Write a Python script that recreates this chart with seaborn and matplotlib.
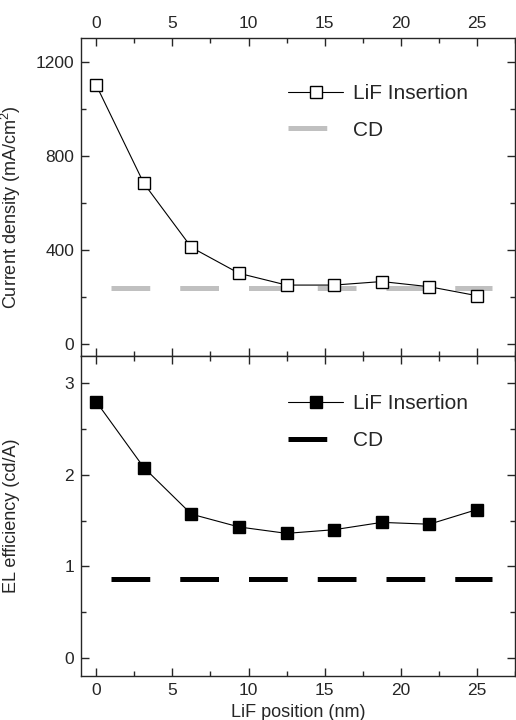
import matplotlib
matplotlib.use("Agg")
import matplotlib.pyplot as plt
import seaborn as sns
import pandas as pd
from matplotlib.ticker import MultipleLocator

# LiF position (nm)
position = [0, 3.125, 6.25, 9.375, 12.5, 15.625, 18.75, 21.875, 25]
# current density (mA/cm2) with LiF insertion
current = [1100, 683, 411, 301, 251, 251, 266, 244, 206]
# EL efficiency (cd/A) with LiF insertion
efficiency = [2.80, 2.08, 1.57, 1.43, 1.36, 1.40, 1.48, 1.46, 1.62]
# CD reference levels and x span of the reference line
cd_span = [1, 26]
cd_current = 238
cd_efficiency = 0.86

sns.set_style("ticks")
plt.rcParams["font.family"] = ["Liberation Sans", "DejaVu Sans"]
plt.rcParams["mathtext.fontset"] = "custom"
plt.rcParams["mathtext.rm"] = "Liberation Sans"
plt.rcParams["mathtext.it"] = "Liberation Sans:italic"
plt.rcParams["lines.scale_dashes"] = False

df = pd.DataFrame({"pos": position, "cur": current, "eff": efficiency})
cd_top = pd.DataFrame({"x": cd_span, "y": [cd_current] * 2})
cd_bot = pd.DataFrame({"x": cd_span, "y": [cd_efficiency] * 2})

fig = plt.figure(figsize=(5.16, 7.2), dpi=100)
ax1 = fig.add_axes([0.157, 0.5056, 0.841, 0.4416])
ax2 = fig.add_axes([0.157, 0.0611, 0.841, 0.4445])

dash = (0, (27.9, 21.6))

# top panel: current density
sns.lineplot(data=cd_top, x="x", y="y", ax=ax1, color="#c0c0c0", lw=3.6,
             linestyle=dash, label="CD", zorder=1)
sns.lineplot(data=df, x="pos", y="cur", ax=ax1, color="black", lw=0.8,
             marker="s", markersize=8, markerfacecolor="white",
             markeredgecolor="black", markeredgewidth=1.0,
             label="LiF Insertion", zorder=3)

# bottom panel: EL efficiency
sns.lineplot(data=cd_bot, x="x", y="y", ax=ax2, color="black", lw=3.6,
             linestyle=dash, label="CD", zorder=1)
sns.lineplot(data=df, x="pos", y="eff", ax=ax2, color="black", lw=0.8,
             marker="s", markersize=8, markerfacecolor="black",
             markeredgecolor="black", markeredgewidth=1.0,
             label="LiF Insertion", zorder=3)

for ax in (ax1, ax2):
    ax.set_xlim(-1, 27.5)
    ax.xaxis.set_major_locator(MultipleLocator(5))
    ax.xaxis.set_minor_locator(MultipleLocator(2.5))
    ax.tick_params(which="both", direction="in", top=True, bottom=True,
                   left=True, right=True, labelsize=12.5, pad=5)
    ax.tick_params(which="major", length=6, width=1)
    ax.tick_params(which="minor", length=3.5, width=1)
    for s in ax.spines.values():
        s.set_linewidth(1.0)
        s.set_visible(True)
    h, l = ax.get_legend_handles_labels()
    ax.legend(h[::-1], l[::-1], frameon=False, fontsize=15, loc="upper left",
              borderpad=0, borderaxespad=0, handlelength=2.6,
              handletextpad=0.5, labelspacing=0.85)

ax1.set_ylim(-50, 1300)
ax1.yaxis.set_major_locator(MultipleLocator(400))
ax1.yaxis.set_minor_locator(MultipleLocator(200))
ax1.tick_params(axis="x", which="both", labeltop=True, labelbottom=False)
ax1.set_xlabel("")
ax1.set_ylabel("Current density (mA/cm$^2$)", fontsize=13)
ax1.yaxis.set_label_coords(-0.133, 0.467)
ax1.get_legend().set_bbox_to_anchor((0.478, 0.856))

ax2.set_ylim(-0.2, 3.3)
ax2.yaxis.set_major_locator(MultipleLocator(1))
ax2.yaxis.set_minor_locator(MultipleLocator(0.5))
ax2.tick_params(axis="x", which="both", labeltop=False, labelbottom=True)
ax2.set_xlabel("LiF position (nm)", fontsize=13, labelpad=4)
ax2.set_ylabel("EL efficiency (cd/A)", fontsize=13)
ax2.yaxis.set_label_coords(-0.14, 0.5)
ax2.get_legend().set_bbox_to_anchor((0.478, 0.88))

fig.savefig("out.png", dpi=100)
